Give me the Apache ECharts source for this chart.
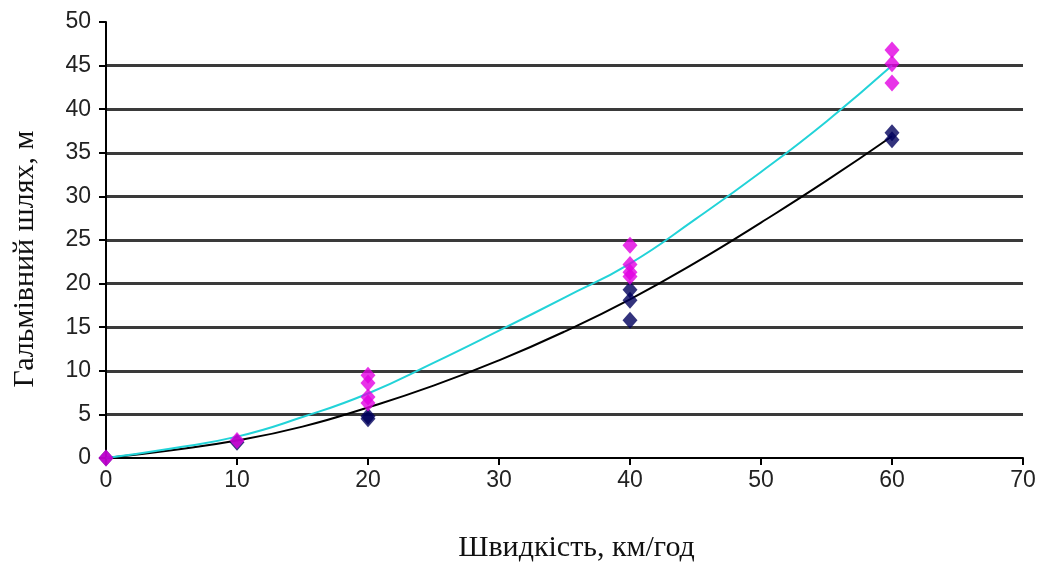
<!DOCTYPE html>
<html><head><meta charset="utf-8">
<script src="https://cdn.jsdelivr.net/npm/echarts@6/dist/echarts.min.js"></script>
<style>html,body{margin:0;padding:0;background:#fff}#c{width:1040px;height:562px}</style>
</head><body><div id="c"></div>
<script>
const xTicks = [0, 10, 20, 30, 40, 50, 60, 70];
const yTicks = [0, 5, 10, 15, 20, 25, 30, 35, 40, 45, 50];
const magentaPoints = [[0,0],[10,2.0],[20,9.5],[20,8.6],[20,7.0],[20,6.3],[40,24.4],[40,22.2],[40,21.3],[40,20.8],[60,46.8],[60,45.2],[60,43.0]];
const navyPoints = [[0,0],[10,1.8],[20,4.5],[20,4.8],[40,19.3],[40,18.1],[40,15.8],[60,37.3],[60,36.5]];
const trendX = [0, 5, 10, 15, 20, 25, 30, 35, 40, 45, 50, 55, 60];
const cyanTrend = [0, 1.1, 2.45, 4.7, 7.4, 10.9, 14.6, 18.4, 22.3, 27.4, 32.8, 38.6, 45.0];
const blackTrend = [0, 0.9, 2.0, 3.6, 5.8, 8.3, 11.2, 14.5, 18.2, 22.4, 27.0, 31.8, 36.9];
const xName = 'Швидкість, км/год';
const yName = 'Гальмівний шлях, м';

const chart = echarts.init(document.getElementById('c'));
chart.setOption({
  animation: false,
  grid: {left: 106, right: 17, top: 22, bottom: 104, containLabel: false, outerBoundsMode: 'none'},
  xAxis: {
    type: 'value', min: xTicks[0], max: xTicks[xTicks.length-1], interval: 10,
    name: xName, nameLocation: 'middle', nameGap: 75,
    nameTextStyle: {fontFamily: 'Liberation Serif', fontSize: 30, color: '#111', padding: [0, 0, 0, 24]},
    axisLine: {show: true, onZero: false, lineStyle: {color: '#000', width: 2}},
    axisTick: {show: true, inside: false, length: 7, lineStyle: {color: '#000', width: 2}},
    axisLabel: {fontFamily: 'Liberation Sans', fontSize: 23, color: '#222', margin: 11},
    splitLine: {show: false}
  },
  yAxis: {
    type: 'value', min: yTicks[0], max: yTicks[yTicks.length-1], interval: 5,
    name: yName, nameLocation: 'middle', nameGap: 66, nameRotate: 90,
    nameTextStyle: {fontFamily: 'Liberation Serif', fontSize: 30, color: '#111', padding: [0, 38, 0, 0]},
    axisLine: {show: true, lineStyle: {color: '#000', width: 2}},
    axisTick: {show: true, inside: false, length: 7, lineStyle: {color: '#000', width: 2}},
    axisLabel: {fontFamily: 'Liberation Sans', fontSize: 23, color: '#222', margin: 15},
    splitLine: {show: true, showMinLine: false, showMaxLine: false, lineStyle: {color: '#3a3a3a', width: 3}}
  },
  series: [
    {type: 'line', data: trendX.map((x,i)=>[x, blackTrend[i]]), smooth: true, showSymbol: false,
     lineStyle: {color: '#000', width: 2}, z: 3},
    {type: 'line', data: trendX.map((x,i)=>[x, cyanTrend[i]]), smooth: true, showSymbol: false,
     lineStyle: {color: '#22d3d8', width: 2}, z: 4},
    {type: 'scatter', data: navyPoints, symbol: 'diamond', symbolSize: [15, 17],
     itemStyle: {color: '#00005c'}, z: 5},
    {type: 'scatter', data: magentaPoints, symbol: 'diamond', symbolSize: [15, 17],
     itemStyle: {color: '#e200e2'}, z: 6}
  ]
});
</script></body></html>
